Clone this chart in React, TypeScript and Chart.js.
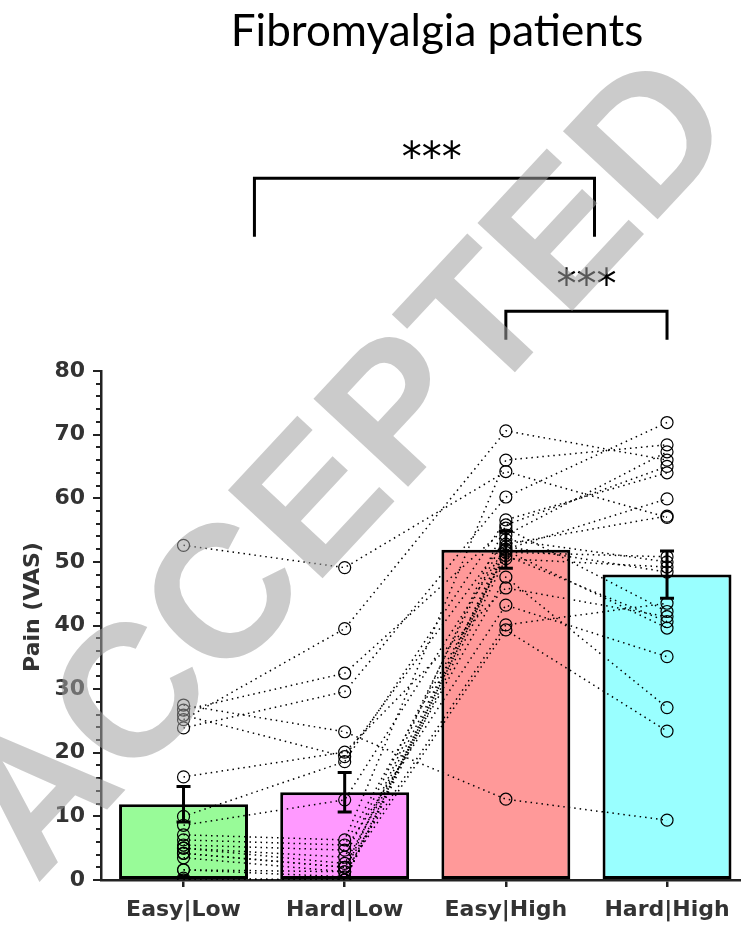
import React, { useEffect, useRef } from "react";
import { Chart, registerables } from "chart.js";

Chart.register(...registerables);

// ---- data ----
const categories = ["Easy|Low", "Hard|Low", "Easy|High", "Hard|High"];
const meanPain = [11.9, 13.8, 51.9, 48.0];
const semPain = [2.8, 3.1, 2.9, 3.7];
const yTickValues = [0, 10, 20, 30, 40, 50, 60, 70, 80];

// individual subjects (index = subject)
const easyLow = [52.6, 27.5, 26.7, 25.9, 25.2, 23.9, 16.2, 10.0, 8.6, 7.1, 6.3, 5.5, 5.0, 5.0, 4.2, 4.2, 3.5, 1.6, 1.6, 0.0, 0.0, 0.3];
const hardLow = [49.1, 23.3, 32.5, 19.4, 39.5, 29.6, 20.1, 18.6, 12.6, 6.3, 5.5, 4.7, 3.6, 2.6, 2.0, 2.0, 1.3, 1.3, 0.5, 0.0, 0.0, 0.0];
const easyHigh = [64.2, 12.7, 55.3, 53.5, 70.6, 60.2, 45.9, 56.6, 52.4, 66.0, 51.0, 43.2, 54.2, 47.6, 40.1, 52.0, 39.3, 55.8, 51.5, 50.5, 52.8, 51.8];
const hardHigh = [57.0, 9.4, 42.2, 50.0, 66.0, 71.9, 41.4, 64.0, 48.4, 68.4, 40.6, 35.1, 67.3, 27.1, 43.5, 59.9, 23.4, 65.0, 50.8, 49.2, 57.2, 39.6];

const barColors = ["#98fb98", "#ff99ff", "#ff9999", "#99ffff"];

// significance annotations
const brackets = [
  { from: 0.44, to: 2.55, top: 110.3, legLeft: 101.1, legRight: 101.1, label: "***", labelX: 1.54, labelY: 114.3 },
  { from: 2.0, to: 3.0, top: 89.4, legLeft: 84.9, legRight: 84.9, label: "***", labelX: 2.5, labelY: 94.3 },
];

const chartTitle = "Fibromyalgia patients";
const yTitle = "Pain (VAS)";
const watermark = "ACCEPTED";

const decorPlugin = {
  id: "decor",
  afterDatasetsDraw(chart: any) {
    const { ctx } = chart;
    const x = chart.scales.x;
    const y = chart.scales.y;
    ctx.save();
    ctx.strokeStyle = "#000";
    ctx.lineWidth = 3;
    ctx.setLineDash([]);
    meanPain.forEach((m, i) => {
      const px = x.getPixelForValue(i);
      const top = y.getPixelForValue(m + semPain[i]);
      const bot = y.getPixelForValue(m - semPain[i]);
      ctx.beginPath();
      ctx.moveTo(px, top);
      ctx.lineTo(px, bot);
      ctx.moveTo(px - 7, top);
      ctx.lineTo(px + 7, top);
      ctx.moveTo(px - 7, bot);
      ctx.lineTo(px + 7, bot);
      ctx.stroke();
    });
    ctx.restore();
  },
  afterDraw(chart: any) {
    const { ctx, chartArea } = chart;
    const x = chart.scales.x;
    const y = chart.scales.y;
    ctx.save();
    // minor ticks
    ctx.strokeStyle = "#222";
    ctx.lineWidth = 2;
    for (let v = 0; v <= 80; v += 2) {
      if (v % 10 === 0) continue;
      const py = Math.round(y.getPixelForValue(v));
      ctx.beginPath();
      ctx.moveTo(chartArea.left - 5, py);
      ctx.lineTo(chartArea.left, py);
      ctx.stroke();
    }
    // y title
    ctx.save();
    ctx.translate(33, 607);
    ctx.rotate(-Math.PI / 2);
    ctx.fillStyle = "#333";
    ctx.font = 'bold 22px "DejaVu Sans"';
    ctx.textAlign = "center";
    ctx.textBaseline = "middle";
    ctx.fillText(yTitle, 0, 0);
    ctx.restore();

    // title
    ctx.fillStyle = "#000";
    ctx.font = '44px "Lato"';
    ctx.textAlign = "center";
    ctx.textBaseline = "alphabetic";
    ctx.fillText(chartTitle, 437, 46);

    // brackets
    ctx.strokeStyle = "#000";
    ctx.lineWidth = 3;
    brackets.forEach((b) => {
      const x1 = x.getPixelForValue(b.from);
      const x2 = x.getPixelForValue(b.to);
      const yt = y.getPixelForValue(b.top);
      ctx.beginPath();
      ctx.moveTo(x1, y.getPixelForValue(b.legLeft));
      ctx.lineTo(x1, yt);
      ctx.lineTo(x2, yt);
      ctx.lineTo(x2, y.getPixelForValue(b.legRight));
      ctx.stroke();
      ctx.fillStyle = "#000";
      ctx.font = '40px "DejaVu Sans"';
      ctx.textAlign = "center";
      ctx.textBaseline = "middle";
      ctx.fillText(b.label, x.getPixelForValue(b.labelX), y.getPixelForValue(b.labelY) + 8);
    });

    // watermark
    ctx.save();
    ctx.translate(351, 472);
    ctx.rotate((-47 * Math.PI) / 180);
    ctx.font = 'bold 188px "Liberation Sans"';
    ctx.fillStyle = "rgba(160,160,160,0.55)";
    ctx.textAlign = "center";
    ctx.textBaseline = "middle";
    ctx.fillText(watermark, 0, 0);
    ctx.restore();

    ctx.restore();
  },
};

export default function App() {
  const ref = useRef<HTMLCanvasElement | null>(null);

  useEffect(() => {
    document.body.style.margin = "0";
    const canvas = ref.current;
    if (!canvas) return;

    const subjectSets = easyLow.map((_, s) => ({
      type: "line" as const,
      data: [easyLow[s], hardLow[s], easyHigh[s], hardHigh[s]].map((v, i) => ({ x: i, y: v })),
      borderColor: "#000",
      borderWidth: 1.5,
      borderDash: [1.5, 4],
      tension: 0,
      fill: false,
      pointRadius: 6,
      pointBorderWidth: 1.2,
      pointBackgroundColor: "rgba(0,0,0,0)",
      pointBorderColor: "#000",
      order: 1,
    }));

    const chart = new Chart(canvas, {
      type: "bar",
      data: {
        datasets: [
          {
            type: "bar",
            data: meanPain.map((v, i) => ({ x: i, y: v })),
            backgroundColor: barColors,
            borderColor: "#000",
            borderWidth: 3,
            borderSkipped: false,
            categoryPercentage: 0.8,
            barPercentage: 1.0,
            order: 10,
          } as any,
          ...(subjectSets as any[]),
        ],
      },
      options: {
        responsive: false,
        animation: false,
        devicePixelRatio: 1,
        events: [],
        layout: { autoPadding: false, padding: { top: 371, left: 0, right: 0, bottom: 0 } },
        plugins: { legend: { display: false }, tooltip: { enabled: false } },
        scales: {
          x: {
            type: "linear",
            offset: false,
            min: -0.512,
            max: 3.459,
            afterBuildTicks: (scale: any) => {
              scale.ticks = categories.map((_, i) => ({ value: i }));
            },
            afterFit: (scale: any) => {
              scale.height = 45;
              scale.paddingLeft = 0;
              scale.paddingRight = 0;
            },
            ticks: {
              autoSkip: false,
              maxRotation: 0,
              padding: 10,
              color: "#333",
              font: { family: "DejaVu Sans", size: 22, weight: "bold" },
              callback: (value: any) => categories[Math.round(Number(value))] ?? "",
            },
            grid: { offset: false, drawOnChartArea: false, drawTicks: true, tickLength: 7, lineWidth: 2.5, color: "#222" },
            border: { display: true, color: "#222", width: 2.5 },
          },
          y: {
            type: "linear",
            min: 0,
            max: 80,
            afterBuildTicks: (scale: any) => {
              scale.ticks = yTickValues.map((v) => ({ value: v }));
            },
            afterFit: (scale: any) => {
              scale.width = 101;
            },
            ticks: {
              padding: 8,
              color: "#333",
              font: { family: "DejaVu Sans", size: 22, weight: "bold" },
            },
            grid: { drawOnChartArea: false, drawTicks: true, tickLength: 8, lineWidth: 2, color: "#222" },
            border: { display: true, color: "#222", width: 2.5 },
          },
        },
      } as any,
      plugins: [decorPlugin],
    });

    return () => chart.destroy();
  }, []);

  return <canvas ref={ref} width={741} height={925} style={{ display: "block" }} />;
}
